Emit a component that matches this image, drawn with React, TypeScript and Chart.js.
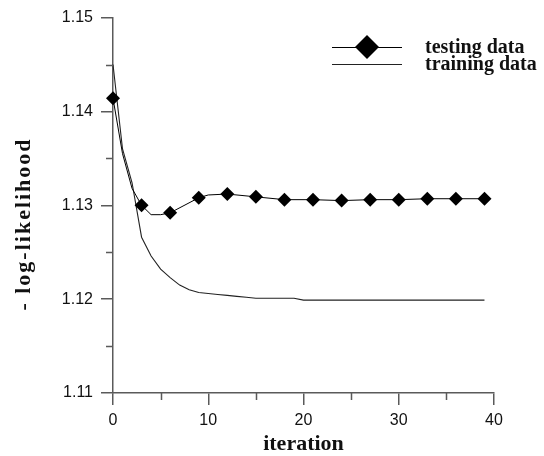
import React, { useEffect, useRef } from 'react';
import { Chart, registerables } from 'chart.js';

Chart.register(...registerables);

// ---- data ----
const testingLabel = 'testing data';
const trainingLabel = 'training data';

const testingIterations = [0, 1, 2, 3, 4, 5, 6, 9, 10, 12, 15, 18, 21, 24, 27, 30, 33, 36, 39];
const testingValues = [
  1.1414, 1.1355, 1.1318, 1.13, 1.129, 1.129, 1.1292, 1.1308, 1.1311, 1.1312,
  1.1309, 1.1306, 1.1306, 1.1305, 1.1306, 1.1306, 1.1307, 1.1307, 1.1307,
];
const testingMarkerIterations = [0, 3, 6, 9, 12, 15, 18, 21, 24, 27, 30, 33, 36, 39];

const trainingIterations = [
  0, 1, 2, 3, 4, 5, 6, 7, 8, 9, 10, 11, 12, 13, 14, 15, 16, 17, 18, 19,
  20, 21, 22, 23, 24, 25, 26, 27, 28, 29, 30, 31, 32, 33, 34, 35, 36, 37, 38, 39,
];
const trainingValues = [
  1.145, 1.136, 1.1324, 1.1266, 1.1246, 1.1232, 1.1223, 1.1215, 1.121, 1.1207,
  1.1206, 1.1205, 1.1204, 1.1203, 1.1202, 1.1201, 1.1201, 1.1201, 1.1201, 1.1201,
  1.1199, 1.1199, 1.1199, 1.1199, 1.1199, 1.1199, 1.1199, 1.1199, 1.1199, 1.1199,
  1.1199, 1.1199, 1.1199, 1.1199, 1.1199, 1.1199, 1.1199, 1.1199, 1.1199, 1.1199,
];

const xMajorTicks = [0, 10, 20, 30, 40];
const xMinorTicks = [5, 15, 25, 35];
const yMajorTicks = [1.11, 1.12, 1.13, 1.14, 1.15];
const yMinorTicks = [1.115, 1.125, 1.135, 1.145];

const xTitle = 'iteration';
const yTitle = '- log-likelihood';

// ---- styles ----
const AXIS_COLOR = '#5a5a5a';
const TEXT_COLOR = '#111';
const SANS = "'Liberation Sans', Arial, sans-serif";
const SERIF = "'Liberation Serif', 'Times New Roman', serif";

const decorPlugin = {
  id: 'decor',
  afterDraw(chart: any) {
    const ctx = chart.ctx as CanvasRenderingContext2D;
    const xs = chart.scales.x;
    const ys = chart.scales.y;
    ctx.save();
    // minor ticks
    ctx.strokeStyle = AXIS_COLOR;
    ctx.lineWidth = 1.5;
    ctx.beginPath();
    xMinorTicks.forEach((v) => {
      const px = Math.round(xs.getPixelForValue(v)) + 0.5;
      ctx.moveTo(px, ys.bottom);
      ctx.lineTo(px, ys.bottom + 7);
    });
    yMinorTicks.forEach((v) => {
      const py = Math.round(ys.getPixelForValue(v)) + 0.5;
      ctx.moveTo(xs.left, py);
      ctx.lineTo(xs.left - 7, py);
    });
    ctx.stroke();

    // y axis title
    ctx.save();
    ctx.translate(24, chart.height / 2 - 4);
    ctx.rotate(-Math.PI / 2);
    ctx.fillStyle = TEXT_COLOR;
    ctx.font = `bold 22px ${SERIF}`;
    try {
      (ctx as any).letterSpacing = '2px';
    } catch (e) {
      /* ignore */
    }
    ctx.textAlign = 'center';
    ctx.textBaseline = 'middle';
    ctx.fillText(yTitle, 0, 0);
    try {
      (ctx as any).letterSpacing = '0px';
    } catch (e) {
      /* ignore */
    }
    ctx.restore();

    // legend
    const lx = chart.chartArea.right - 162;
    const lineLen = 70;
    const textX = lx + 93;
    const rowY = [47, 64];
    chart.data.datasets.forEach((ds: any, i: number) => {
      const y = rowY[i];
      ctx.strokeStyle = ds.borderColor;
      ctx.lineWidth = 1.2;
      ctx.beginPath();
      ctx.moveTo(lx, y + 0.5);
      ctx.lineTo(lx + lineLen, y + 0.5);
      ctx.stroke();
      if (ds.legendMarker) {
        const cx = lx + lineLen / 2;
        const r = 12;
        ctx.fillStyle = '#000';
        ctx.beginPath();
        ctx.moveTo(cx - r, y);
        ctx.lineTo(cx, y - r);
        ctx.lineTo(cx + r, y);
        ctx.lineTo(cx, y + r);
        ctx.closePath();
        ctx.fill();
      }
      ctx.fillStyle = TEXT_COLOR;
      ctx.font = `bold 20px ${SERIF}`;
      ctx.textAlign = 'left';
      ctx.textBaseline = 'alphabetic';
      ctx.fillText(ds.label, textX, y + 6);
    });
    ctx.restore();
  },
};

export default function App() {
  const canvasRef = useRef<HTMLCanvasElement | null>(null);

  useEffect(() => {
    const canvas = canvasRef.current;
    if (!canvas) return;
    const chart = new Chart(canvas, {
      type: 'line',
      data: {
        datasets: [
          {
            label: testingLabel,
            data: testingIterations.map((x, i) => ({ x, y: testingValues[i] })),
            borderColor: '#000',
            backgroundColor: '#000',
            borderWidth: 1,
            tension: 0,
            clip: false,
            pointStyle: 'rectRot',
            pointRadius: (c: any) =>
              testingMarkerIterations.includes(testingIterations[c.dataIndex]) ? 7 : 0,
            pointBorderWidth: 0,
            pointBackgroundColor: '#000',
            legendMarker: true,
          } as any,
          {
            label: trainingLabel,
            data: trainingIterations.map((x, i) => ({ x, y: trainingValues[i] })),
            borderColor: '#222',
            backgroundColor: '#222',
            borderWidth: 1.1,
            tension: 0,
            clip: false,
            pointRadius: 0,
            legendMarker: false,
          } as any,
        ],
      },
      options: {
        animation: false,
        responsive: false,
        maintainAspectRatio: false,
        layout: { padding: { top: 13, right: 50, left: 0, bottom: 0 } },
        plugins: {
          legend: { display: false },
          tooltip: { enabled: false },
        },
        scales: {
          x: {
            type: 'linear',
            min: 0,
            max: 40,
            afterFit: (s: any) => {
              s.height = 63;
            },
            afterBuildTicks: (s: any) => {
              s.ticks = xMajorTicks.map((v) => ({ value: v }));
            },
            border: { display: true, color: AXIS_COLOR, width: 1.5 },
            grid: {
              display: true,
              drawOnChartArea: false,
              drawTicks: true,
              tickLength: 12,
              color: AXIS_COLOR,
              lineWidth: 1.5,
            },
            ticks: {
              color: TEXT_COLOR,
              font: { family: SANS, size: 16 },
              padding: 6,
              maxRotation: 0,
              callback: (v: any) => String(v),
            },
            title: {
              display: true,
              text: xTitle,
              color: TEXT_COLOR,
              font: { family: SERIF, size: 22, weight: 'bold' },
              padding: { top: 0, bottom: -2 },
            },
          },
          y: {
            type: 'linear',
            min: 1.11,
            max: 1.15,
            afterFit: (s: any) => {
              s.width = 113;
            },
            afterBuildTicks: (s: any) => {
              s.ticks = yMajorTicks.map((v) => ({ value: v }));
            },
            border: { display: true, color: AXIS_COLOR, width: 1.5 },
            grid: {
              display: true,
              drawOnChartArea: false,
              drawTicks: true,
              tickLength: 12,
              color: AXIS_COLOR,
              lineWidth: 1.5,
            },
            ticks: {
              color: TEXT_COLOR,
              font: { family: SANS, size: 16 },
              padding: 8,
              callback: (v: any) => Number(v).toFixed(2),
            },
            title: { display: false, text: yTitle },
          },
        },
      },
      plugins: [decorPlugin],
    });
    return () => chart.destroy();
  }, []);

  return (
    <div style={{ position: 'fixed', left: 0, top: 0, width: 544, height: 456, background: '#fff' }}>
      <canvas ref={canvasRef} width={544} height={456} style={{ width: 544, height: 456, display: 'block' }} />
    </div>
  );
}
